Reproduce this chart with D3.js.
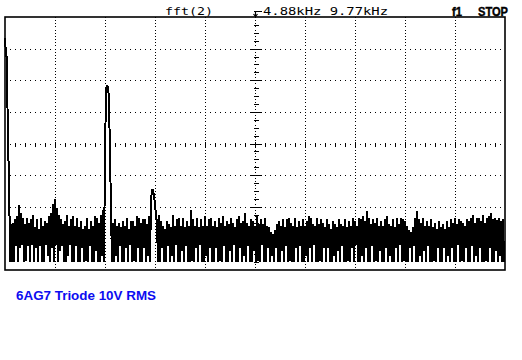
<!DOCTYPE html>
<html>
<head>
<meta charset="utf-8">
<script src="https://cdn.jsdelivr.net/npm/d3@7"></script>
<style>
  body { margin: 0; background: #fff; }
  svg { display: block; }
</style>
</head>
<body>
<div id="scope"></div>
<script>
// FFT screen readout, 10 div across (0 .. 9.77 kHz), 8 div high (10 dB/div)
const spanKHz = 9.77;
const centerKHz = 4.88;
const headerLeft = "fft(2)";
const headerFreq = "4.88kHz 9.77kHz";
const headerState = "STOP";
const caption = "6AG7 Triode 10V RMS";

// per bin max / min of the overlaid sweeps, dB
const magMax = [
  -6.6,-13,-47,-65.5,-65,-64,-63,-59.5,-62,-63.5,
  -65.5,-63.5,-65,-64,-62.5,-66.5,-64,-67,-63.5,-66,
  -64.5,-65,-63,-62,-59,-57.5,-60.5,-62.5,-64,-65.5,
  -64.5,-62.5,-66,-64,-63,-66,-63.5,-66.5,-64.5,-67,
  -66,-63.5,-67,-64.5,-66,-63,-63.5,-65,-62.5,-61,
  -44,-21.5,-26,-60,-65,-64,-66,-65,-66.5,-64.5,
  -66,-63.5,-67,-64.5,-64.5,-66,-63,-63.5,-65,-64,
  -64,-65.5,-63,-58,-54.7,-59,-65,-62.5,-64.5,-66,
  -67,-64.5,-65.5,-66.5,-62.5,-66,-64,-63.5,-66,-63.5,
  -66.5,-64.5,-66,-61,-64,-66,-63.5,-66.5,-64,-66,
  -63,-66,-64,-63.5,-66,-64.5,-66.5,-63.5,-65,-63,
  -66,-64.5,-65.5,-63.5,-65,-66.5,-64,-63,-65,-64.5,
  -62,-65,-66,-64,-64.5,-66,-63,-65.5,-64,-65.5,
  -63.5,-66,-66.5,-68,-68.5,-67.5,-65.5,-64.5,-66,-64,
  -66.5,-64,-63.5,-65,-66,-63.5,-66.5,-64.5,-66,-64,
  -66,-64.5,-63,-63.5,-65.5,-66,-63.5,-65.5,-64,-65,
  -66.5,-64,-65.5,-67,-64.5,-65.5,-66.5,-64,-65.5,-66,
  -64,-66.5,-64.5,-66,-63.5,-64.5,-66,-63.5,-64,-63,
  -64.5,-61.5,-63.5,-65.5,-64,-65,-63.5,-66,-64.5,-66,
  -64,-63,-65.5,-66,-64,-66.5,-63.5,-65.5,-63.5,-64,
  -64.5,-66,-67.5,-68,-66.5,-63.5,-61.5,-64,-65,-63.5,
  -66,-64.5,-66,-64,-66.5,-65,-67,-64.5,-66.5,-65.5,
  -67,-64.5,-66.5,-64,-65,-63.5,-65.5,-64,-64.5,-65,
  -66,-64,-64.5,-63.5,-62.5,-65,-63.5,-63.5,-64.5,-62.5,
  -65,-63.5,-63,-62,-64,-63.5,-64.2,-63.5,-64.5,-64
];

const magMin = [
  -12,-44,-77.5,
  -77.5,-77.5,-72.5,-77.5,-73,-72,-77.5,-77,-72.5,-77.5,
  -72,-77.5,-73,-77.5,-72.5,-77.5,-77.5,-72,-75.5,-77.5,
  -73,-77.5,-72,-77.5,-74,-72.5,-77.5,-77.5,-75.5,-72,
  -77.5,-77.5,-72.5,-77.5,-77.5,-73,-77.5,-77,-77.5,-72.5,
  -77.5,-77.5,-74,-77.5,-77.5,-75.5,
  -77.5,-23,-22,-44,-77.5,
  -77.5,-75.5,-77.5,-72.5,-77.5,-77.5,-73,-77.5,-72,-77.5,
  -77,-77.5,-73,-77.5,-77.5,-73,-77.5,-75.5,
  -77.5,-54.5,-56.5,-63,-77.5,
  -77.5,-73,-77.5,-77.5,-72.5,-77.5,-75.5,-77.5,-72,-77.5,
  -77.5,-74,-77.5,-72.5,-77.5,-77.5,-77,-77.5,-73,-77.5,
  -72,-77.5,-77.5,-75.5,-77.5,-73,-77.5,-77.5,-73,-77.5,
  -77,-77.5,-72.5,-77.5,-77.5,-74,-77.5,-72,-77.5,-77.5,
  -73,-77.5,-75.5,-77.5,-72.5,-77.5,-77.5,-74,-77.5,-77,
  -77.5,-72,-77.5,-77.5,-73,-77.5,-75.5,-77.5,-73,-77.5,
  -77.5,-74,-77.5,-72.5,-77.5,-77,-77.5,-77.5,-73,-77.5,
  -72.5,-77.5,-77.5,-75.5,-77.5,-73,-77.5,-72,-77.5,-77.5,
  -77,-77.5,-73,-77.5,-73,-77.5,-77.5,-75.5,-77.5,-74,
  -77.5,-72.5,-77.5,-77.5,-77,-77.5,-73,-77.5,-72,-77.5,
  -77.5,-75.5,-77.5,-73,-77.5,-77.5,-72.5,-77.5,-77,-77.5,
  -74,-77.5,-77.5,-73,-77.5,-75.5,-77.5,-77.5,-73,-77.5,
  -72,-77.5,-77,-77.5,-77.5,-73,-77.5,-72.5,-77.5,-77.5,
  -75.5,-77.5,-74,-77.5,-72.5,-77.5,-77.5,-77,-77.5,-73,
  -77.5,-77.5,-73,-77.5,-75.5,-77.5,-73,-77.5,-77.5,-72,
  -77.5,-77,-77.5,-73,-77.5,-77.5,-72.5,-77.5,-75.5,-77.5,
  -73,-77.5,-77.5,-77,-77.5,-73,-77.5,-77.5,-74,-77.5,
  -75.5,-77.5,-77.5
];

const W = 522, H = 360;
const box = { left: 5, top: 17, right: 505, bottom: 270 };
const xDiv = 10, yDiv = 8;

const svg = d3.select("#scope").append("svg")
  .attr("width", W)
  .attr("height", H);

const x = d3.scaleLinear().domain([0, spanKHz]).range([box.left, box.right]);
const y = d3.scaleLinear().domain([-80, 0]).range([box.bottom, box.top]);

const divW = (box.right - box.left) / xDiv;
const divH = (box.bottom - box.top) / yDiv;

// dotted graticule
const grid = svg.append("g").attr("fill", "#000");
d3.range(1, xDiv).forEach(k => {
  const gx = Math.round(box.left + k * divW);
  d3.range(0, yDiv * 10).forEach(j => {
    grid.append("rect")
      .attr("x", gx).attr("y", Math.round(box.top + j * divH / 10))
      .attr("width", 1).attr("height", 1);
  });
});
d3.range(1, yDiv).forEach(k => {
  const gy = Math.round(box.top + k * divH);
  d3.range(1, xDiv * 10).forEach(j => {
    grid.append("rect")
      .attr("x", box.left + j * divW / 10).attr("y", gy)
      .attr("width", 1).attr("height", 1);
  });
});

// centre axes with ticks
const cx = Math.round(x(centerKHz)) + 0.5;
const cy = Math.round(box.top + 4 * divH) + 0.5;
const ticks = svg.append("g").attr("stroke", "#000").attr("stroke-width", 1)
  .attr("shape-rendering", "crispEdges");
d3.range(1, yDiv * 4).forEach(j => {
  const ty = Math.round(box.top + j * divH / 4) + 0.5;
  const half = (j % 4 === 0) ? 5 : 2;
  ticks.append("line").attr("x1", cx - half).attr("x2", cx + half + 1)
    .attr("y1", ty).attr("y2", ty);
});
d3.range(1, xDiv * 5).forEach(j => {
  const tx = Math.round(box.left + j * divW / 5) + 0.5;
  const half = (j % 5 === 0) ? 3 : 2;
  ticks.append("line").attr("x1", tx).attr("x2", tx)
    .attr("y1", cy - half).attr("y2", cy + half);
});

// frame
svg.append("rect")
  .attr("x", box.left).attr("y", box.top)
  .attr("width", box.right - box.left).attr("height", box.bottom - box.top)
  .attr("fill", "none").attr("stroke", "#000").attr("stroke-width", 1.6);

// trace: each bin swings from its max to its min
const df = spanKHz / magMax.length;
const pts = [];
magMax.forEach((v, i) => {
  pts.push([x(i * df), y(v)]);
  pts.push([x(i * df + df / 2), y(magMin[i])]);
});
svg.append("path")
  .attr("d", d3.line()(pts))
  .attr("fill", "none")
  .attr("stroke", "#000")
  .attr("stroke-width", 2)
  .attr("stroke-linejoin", "bevel")
  .attr("shape-rendering", "crispEdges");

// header
const hdr = svg.append("g").attr("fill", "#000");
hdr.append("text")
  .attr("x", 165).attr("y", 15)
  .attr("font-family", "DejaVu Sans Mono").attr("font-size", 11)
  .attr("textLength", 48).attr("lengthAdjust", "spacingAndGlyphs")
  .text(headerLeft);
hdr.append("path")
  .attr("d", "M254,11.5H262M255.5,11.5V16M253.5,14L255.5,16.5L257.5,14")
  .attr("fill", "none").attr("stroke", "#000").attr("stroke-width", 1.2);
hdr.append("text")
  .attr("x", 263).attr("y", 15)
  .attr("font-family", "DejaVu Sans Mono").attr("font-size", 11)
  .attr("textLength", 125).attr("lengthAdjust", "spacingAndGlyphs")
  .text(headerFreq);
hdr.append("text")
  .attr("x", 452).attr("y", 15.5)
  .attr("font-family", "Liberation Sans").attr("font-weight", "bold").attr("font-size", 12.5)
  .attr("stroke", "#000").attr("stroke-width", 0.4)
  .attr("textLength", 10).attr("lengthAdjust", "spacingAndGlyphs")
  .text("f1");
hdr.append("text")
  .attr("x", 478).attr("y", 15.5)
  .attr("font-family", "Liberation Sans").attr("font-weight", "bold").attr("font-size", 12.5)
  .attr("stroke", "#000").attr("stroke-width", 0.4)
  .attr("textLength", 30).attr("lengthAdjust", "spacingAndGlyphs")
  .text(headerState);

// caption
svg.append("text")
  .attr("x", 16).attr("y", 299.5)
  .attr("font-family", "Liberation Sans").attr("font-weight", "bold").attr("font-size", 12.5)
  .attr("textLength", 140).attr("lengthAdjust", "spacingAndGlyphs")
  .attr("fill", "#0c0cf0")
  .text(caption);
</script>
</body>
</html>
